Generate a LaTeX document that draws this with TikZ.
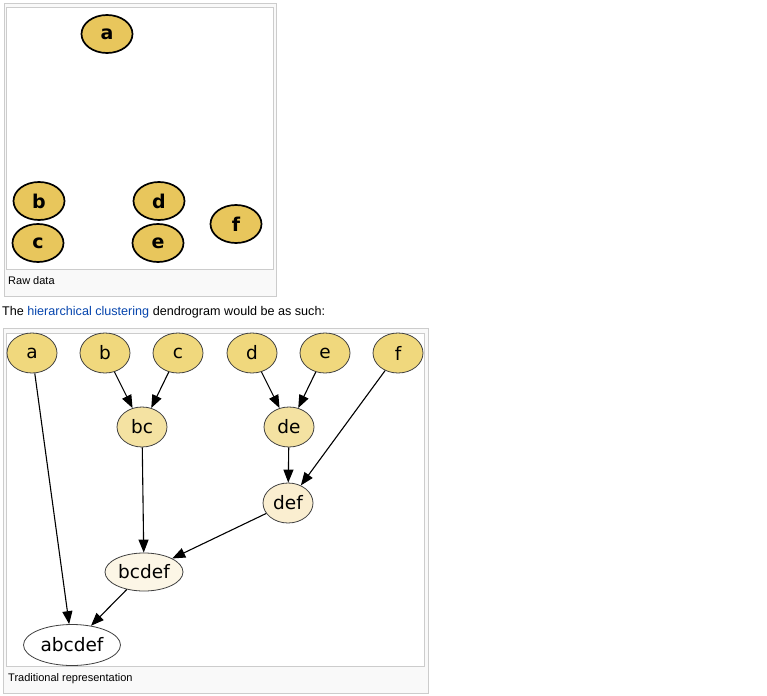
\documentclass[tikz,border=0pt]{standalone}
\usepackage{fontspec}
\setmainfont{Liberation Sans}
\newfontfamily\dvsans{DejaVu Sans}
\usetikzlibrary{shapes.geometric,arrows.meta}

\definecolor{rawgold}{RGB}{232,198,92}
\definecolor{leafgold}{RGB}{240,216,125}
\definecolor{pairgold}{RGB}{244,226,162}
\definecolor{tripgold}{RGB}{250,238,208}
\definecolor{quintgold}{RGB}{252,246,230}
\definecolor{capgray}{RGB}{249,249,249}
\definecolor{wikilink}{RGB}{6,69,173}

\tikzset{
  raw/.style={ellipse, draw=black, line width=1.7pt, fill=rawgold, minimum width=51pt,
    minimum height=38pt, inner sep=0pt, font=\dvsans\bfseries\fontsize{19}{19}\selectfont},
  clus/.style={ellipse, draw=black!75, line width=0.8pt, minimum width=50pt,
    minimum height=40pt, inner sep=0pt, font=\dvsans\fontsize{18.5}{18.5}\selectfont},
  link/.style={-{Triangle[length=13pt,width=10pt]}, line width=1.1pt},
  frame/.style={draw=black!20, line width=1pt},
  caption/.style={anchor=base west, inner sep=0pt, font=\fontsize{11}{11}\selectfont},
}

\begin{document}
\begin{tikzpicture}[x=1pt,y=-1pt]
  \useasboundingbox (0,0) rectangle (767,695);

  % raw data panel
  \filldraw[frame, fill=capgray] (4,4) rectangle (276,296);
  \filldraw[frame, fill=white] (6,8) rectangle (273,269);
  \node[caption] (rawcap) at (8,284) {Raw data};

  \node[raw] (ra) at (107,34) {a};
  \node[raw] (rb) at (39,201) {b};
  \node[raw] (rc) at (38,243) {c};
  \node[raw] (rd) at (159,201) {d};
  \node[raw] (re) at (158,243) {e};
  \node[raw] (rf) at (236,224) {f};

  \node[anchor=base west, inner sep=0pt, font=\fontsize{12.6}{12.6}\selectfont] (intro) at (2,315)
    {The \textcolor{wikilink}{hierarchical clustering} dendrogram would be as such:};

  % dendrogram panel
  \filldraw[frame, fill=capgray] (3,328) rectangle (428,693);
  \filldraw[frame, fill=white] (6,333) rectangle (424,666);
  \node[caption] (tradcap) at (8,681) {Traditional representation};

  \node[clus, fill=leafgold] (a) at (32,353) {a};
  \node[clus, fill=leafgold] (b) at (105,353) {b};
  \node[clus, fill=leafgold] (c) at (178,353) {c};
  \node[clus, fill=leafgold] (d) at (252,353) {d};
  \node[clus, fill=leafgold] (e) at (325,353) {e};
  \node[clus, fill=leafgold] (f) at (398,353) {f};
  \node[clus, fill=pairgold] (bc) at (142,427) {bc};
  \node[clus, fill=pairgold] (de) at (289,427) {de};
  \node[clus, fill=tripgold] (def) at (288,503) {def};
  \node[clus, fill=quintgold, minimum width=78pt, minimum height=38pt] (bcdef) at (144,572) {bcdef};
  \node[clus, fill=white, minimum width=97pt, minimum height=41pt] (abcdef) at (72,645) {abcdef};

  \draw[link] (b) -- (bc);
  \draw[link] (c) -- (bc);
  \draw[link] (d) -- (de);
  \draw[link] (e) -- (de);
  \draw[link] (de) -- (def);
  \draw[link] (f) -- (def);
  \draw[link] (bc) -- (bcdef);
  \draw[link] (def) -- (bcdef);
  \draw[link] (bcdef) -- (abcdef);
  \draw[link] (a) -- (abcdef);
\end{tikzpicture}
\end{document}
